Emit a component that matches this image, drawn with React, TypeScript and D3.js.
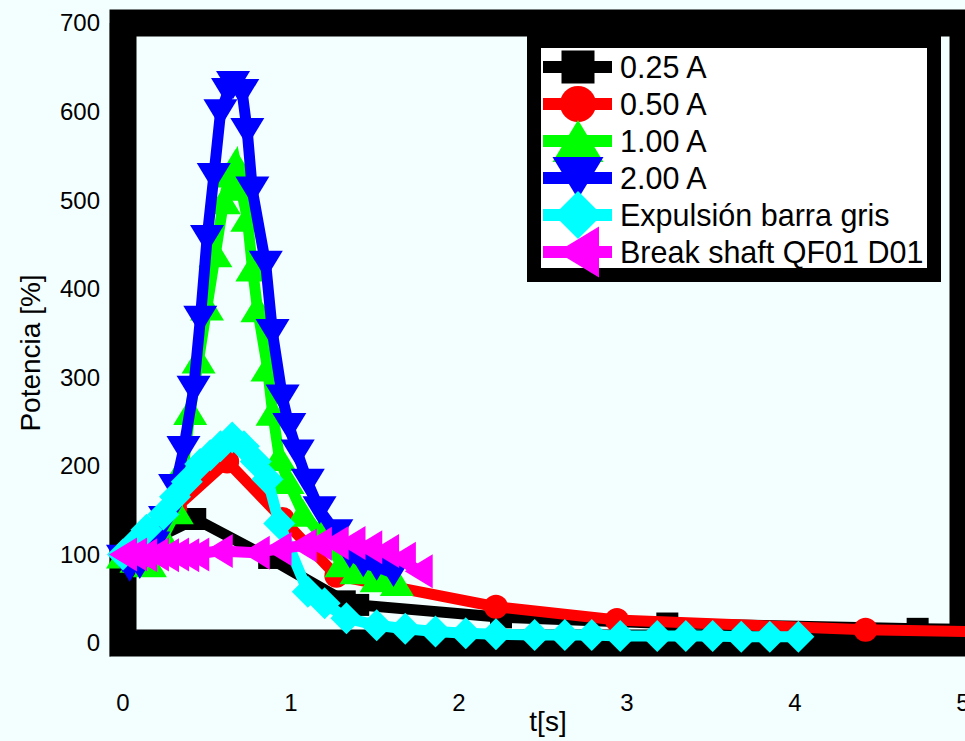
import React from "react";
import * as d3 from "d3";

const W = 965;
const H = 741;

const xTicks = [0, 1, 2, 3, 4, 5];
const yTicks = [0, 100, 200, 300, 400, 500, 600, 700];

const blackT = [0, 0.43, 0.87, 1.32, 1.4, 2.25, 3.24, 4.73, 5.2];
const blackV = [100, 140, 96, 47, 43, 29, 22, 16, 15];

const redT = [0, 0.31, 0.62, 0.95, 1.27, 2.22, 2.94, 4.42, 5.3];
const redV = [100, 152, 205, 140, 76, 41, 26, 15, 12];

const greenT = [0, 0.08, 0.16, 0.24, 0.32, 0.36, 0.4, 0.45, 0.5, 0.55, 0.6, 0.64, 0.67, 0.7, 0.74, 0.77, 0.8, 0.86, 0.89, 0.93, 0.98, 1.07, 1.17, 1.3, 1.39, 1.51, 1.63];
const greenV = [100, 95, 90, 120, 150, 200, 262, 320, 380, 440, 500, 530, 542, 515, 480, 424, 378, 311, 261, 210, 184, 147, 124, 90, 82, 73, 69];

const blueT = [0, 0.04, 0.1, 0.18, 0.25, 0.31, 0.36, 0.42, 0.46, 0.5, 0.54, 0.58, 0.625, 0.655, 0.71, 0.74, 0.77, 0.85, 0.89, 0.95, 0.99, 1.04, 1.1, 1.17, 1.27, 1.35, 1.43, 1.51, 1.61];
const blueV = [95, 85, 88, 110, 139, 175, 218, 286, 365, 456, 526, 598, 622, 630, 621, 577, 511, 427, 350, 276, 244, 214, 181, 150, 124, 100, 90, 86, 79];

const cyanT = [0, 0.06, 0.14, 0.24, 0.31, 0.38, 0.46, 0.52, 0.58, 0.65, 0.72, 0.79, 0.86, 0.93, 1.1, 1.2, 1.33, 1.51, 1.68, 1.86, 2.04, 2.22, 2.45, 2.63, 2.79, 2.96, 3.18, 3.35, 3.51, 3.68, 3.85, 4.02];
const cyanV = [100, 111, 128, 145, 165, 182, 202, 212, 222, 232, 222, 205, 185, 135, 58, 45, 28, 20, 16, 13, 11, 10, 9, 9, 9, 8, 8, 8, 8, 7, 7, 7];

const magT = [0, 0.06, 0.12, 0.19, 0.25, 0.31, 0.37, 0.43, 0.57, 0.79, 0.92, 1.07, 1.16, 1.26, 1.36, 1.46, 1.56, 1.66, 1.76];
const magV = [100, 100, 99, 100, 99, 100, 99, 100, 104, 102, 106, 110, 112, 113, 113, 108, 104, 95, 81];

const labels = ["0.25 A", "0.50 A", "1.00 A", "2.00 A", "Expulsión barra gris", "Break shaft QF01 D01"];
const colors = ["#000000", "#ff0000", "#00ff00", "#0000ff", "#00ffff", "#ff00ff"];
const markers = ["square", "circle", "up", "down", "diamond", "left"];

const seriesT = [blackT, redT, greenT, blueT, cyanT, magT];
const seriesV = [blackV, redV, greenV, blueV, cyanV, magV];

const FONT = "'Liberation Sans', Arial, Helvetica, sans-serif";
const BG = "#f3ffff";

function markerPath(type: string, s: number): string {
  switch (type) {
    case "square": {
      const a = 11 * s;
      return `M${-a},${-a}H${a}V${a}H${-a}Z`;
    }
    case "circle": {
      const r = 12 * s;
      return `M${-r},0A${r},${r} 0 1,0 ${r},0A${r},${r} 0 1,0 ${-r},0Z`;
    }
    case "up": {
      const w = 17 * s, h = 14 * s;
      return `M0,${-h}L${w},${h}L${-w},${h}Z`;
    }
    case "down": {
      const w = 17 * s, h = 14 * s;
      return `M0,${h}L${w},${-h}L${-w},${-h}Z`;
    }
    case "diamond": {
      const a = 16 * s;
      return `M0,${-a}L${a},0L0,${a}L${-a},0Z`;
    }
    case "left": {
      const w = 14 * s, h = 17 * s;
      return `M${-w},0L${w},${-h}L${w},${h}Z`;
    }
  }
  return "";
}

export default function App() {
  const x = d3.scaleLinear().domain([0, 5]).range([123, 963]);
  const y = d3.scaleLinear().domain([0, 700]).range([643, 23]);
  const line = d3
    .line<[number, number]>()
    .x((d) => x(d[0]))
    .y((d) => y(d[1]));

  const x0 = x(0), x1 = x(5), y0 = y(0), y1 = y(700);
  const legendRows = labels.map((_, i) => 67 + i * 37);

  return (
    <svg
      width={W}
      height={H}
      style={{ position: "absolute", left: 0, top: 0, background: BG, display: "block" }}
      fontFamily={FONT}
    >
      <rect x={0} y={0} width={W} height={H} fill={BG} />
      {/* thin axis line */}
      <line x1={x0 - 13} y1={y1} x2={x0 - 13} y2={y0 + 14} stroke="#888" strokeWidth={1} />
      <line x1={x0} y1={y1 - 13} x2={x0} y2={y1} stroke="#888" strokeWidth={1} />
      {/* heavy box */}
      <rect x={x0} y={y1} width={x1 - x0} height={y0 - y1} fill="none" stroke="#000" strokeWidth={27} />

      {/* series */}
      {seriesT.map((ts, i) => {
        const pts = ts.map((t, j) => [t, seriesV[i][j]] as [number, number]);
        return (
          <g key={i}>
            <path d={line(pts) || ""} fill="none" stroke={colors[i]} strokeWidth={11} strokeLinejoin="miter" />
            {pts.map((p, j) => (
              <path
                key={j}
                d={markerPath(markers[i], 1)}
                transform={`translate(${x(p[0])},${y(p[1])})`}
                fill={colors[i]}
              />
            ))}
          </g>
        );
      })}

      {/* tick labels */}
      {xTicks.map((t) => (
        <text key={"x" + t} x={x(t)} y={711} fontSize={24} textAnchor="middle" fill="#000">
          {t}
        </text>
      ))}
      {yTicks.map((v) => (
        <text key={"y" + v} x={100} y={y(v)} dy="0.35em" fontSize={24} textAnchor="end" fill="#000">
          {v}
        </text>
      ))}
      <text x={548} y={731} fontSize={28} textAnchor="middle" fill="#000">
        t[s]
      </text>
      <text
        transform={`translate(40,353) rotate(-90)`}
        fontSize={28}
        textAnchor="middle"
        fill="#000"
      >
        Potencia [%]
      </text>

      {/* legend */}
      <rect x={534} y={41} width={400} height={234} fill="#ffffff" stroke="#000" strokeWidth={14} />
      {labels.map((lab, i) => (
        <g key={lab}>
          <line x1={543} x2={612} y1={legendRows[i]} y2={legendRows[i]} stroke={colors[i]} strokeWidth={12} />
          <path d={markerPath(markers[i], 1.5)} transform={`translate(578,${legendRows[i]})`} fill={colors[i]} />
          <text x={620} y={legendRows[i]} dy="0.36em" fontSize={30.5} fill="#000">
            {lab}
          </text>
        </g>
      ))}
    </svg>
  );
}
